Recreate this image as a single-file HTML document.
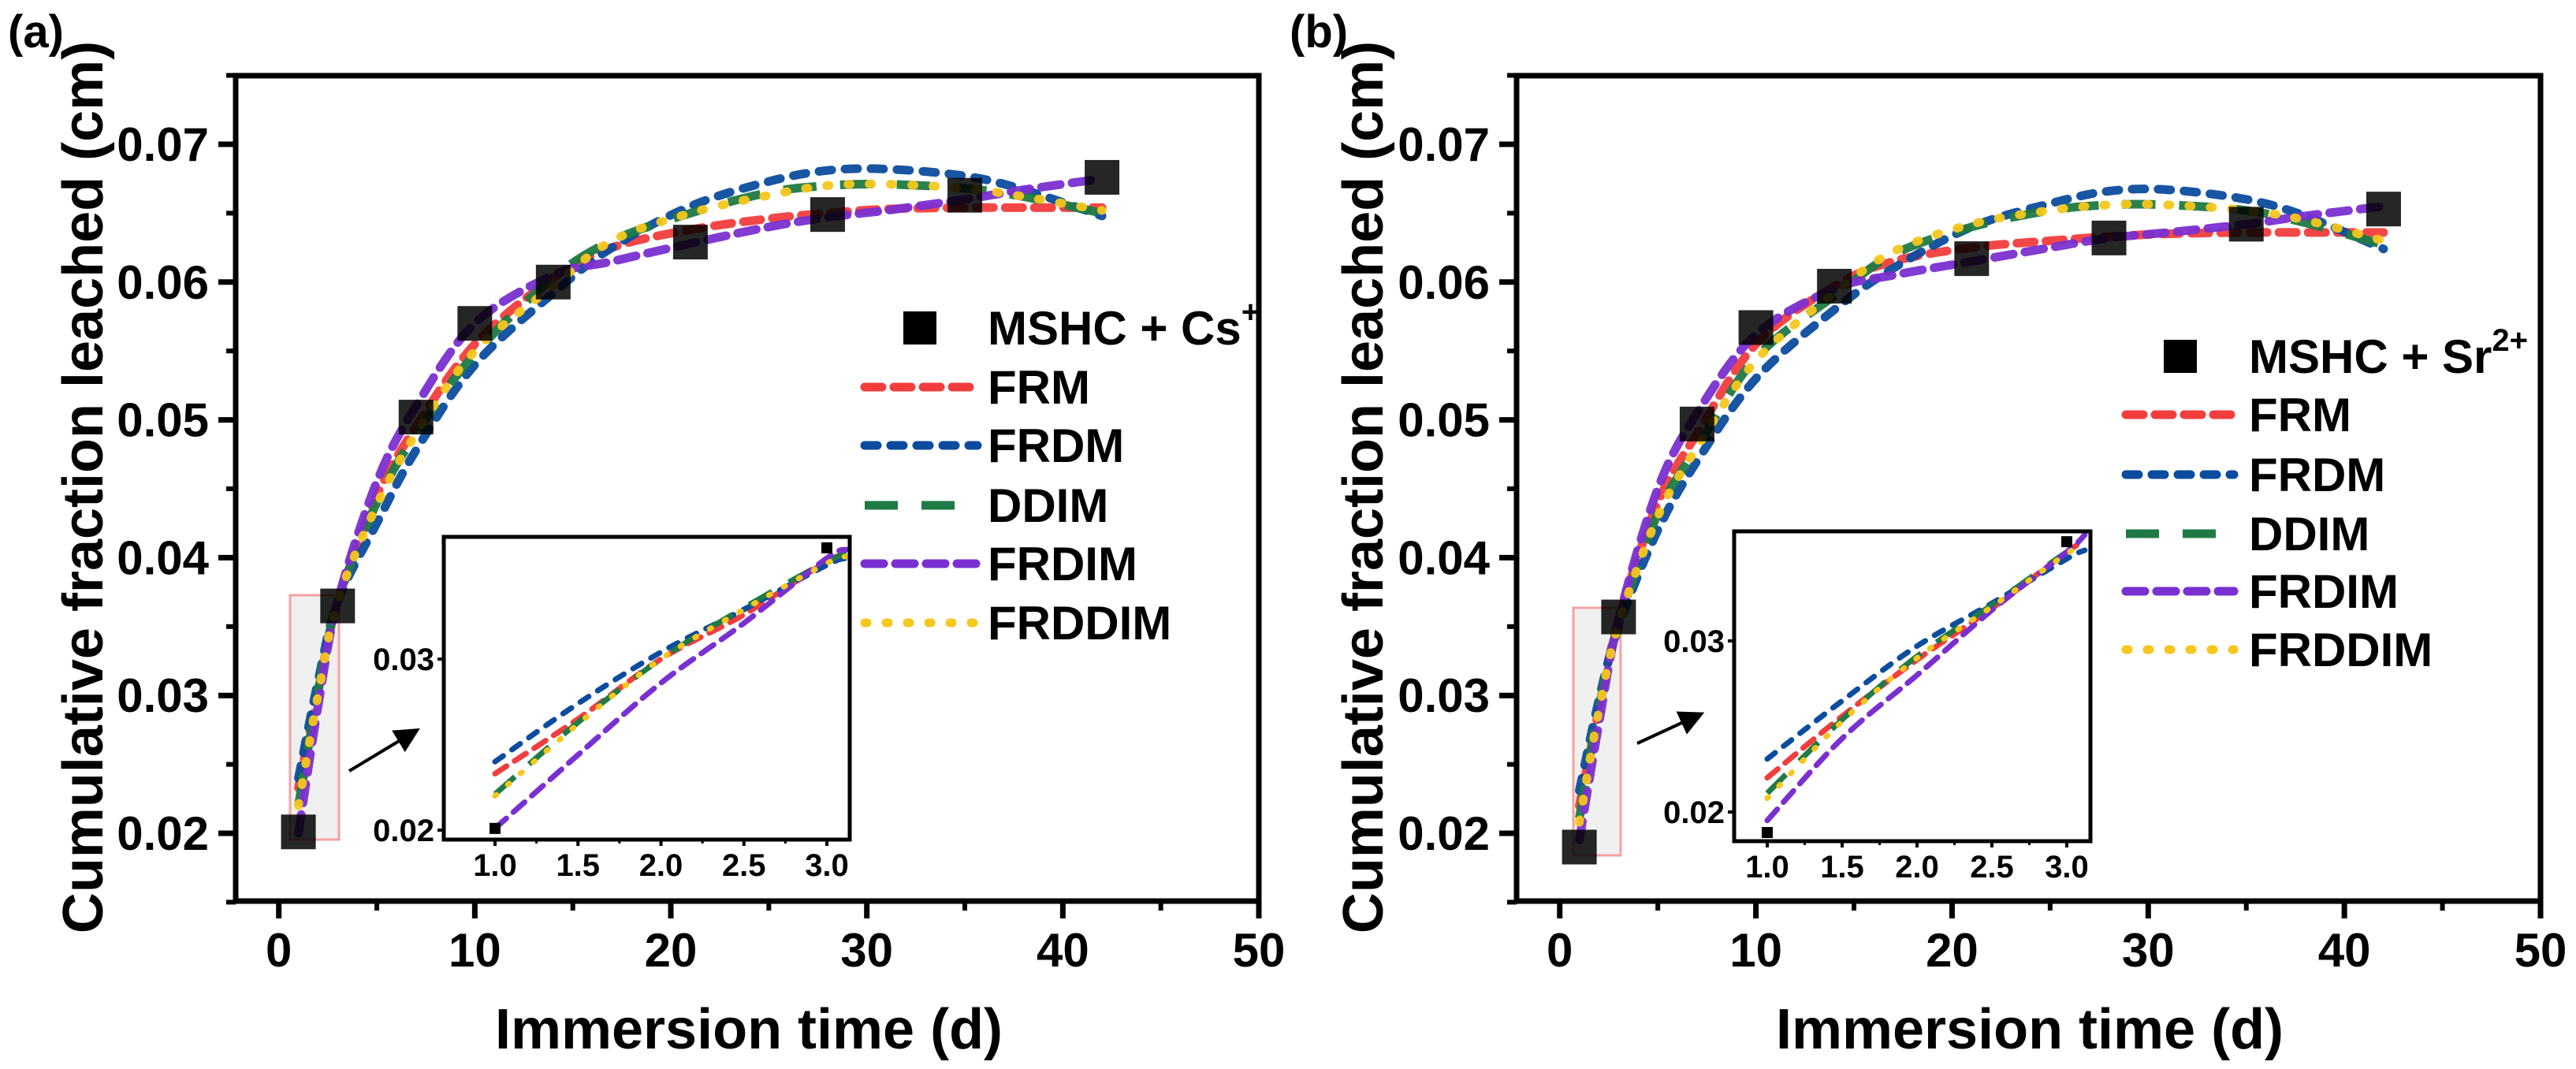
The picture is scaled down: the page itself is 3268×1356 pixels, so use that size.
<!DOCTYPE html>
<html><head><meta charset="utf-8"><style>
html,body{margin:0;padding:0;background:#fff;}
svg{display:block;font-family:"Liberation Sans",Arial,sans-serif;font-weight:bold;}
</style></head><body>
<svg id="chart" width="3268" height="1356" viewBox="0 0 3268 1356" xmlns="http://www.w3.org/2000/svg"></svg>
<script>
// ---- data ----
const obsX = [1,3,7,10,14,21,28,35,42];
const obsA = [0.0201,0.0365,0.0502,0.0570,0.0600,0.0629,0.0649,0.0663,0.0676];
const obsB = [0.0190,0.0357,0.0497,0.0567,0.0597,0.0617,0.0632,0.0642,0.0653];
const fitX = [1,2,3,5,7,10,14,17,21,25,28,31,35,38,42];
const frmA   = [0.0233,0.0303,0.0368,0.0445,0.0495,0.0555,0.0603,0.0625,0.0638,0.0646,0.0650,0.0653,0.0654,0.0654,0.0654];
const frdmA  = [0.0240,0.0310,0.0368,0.0425,0.0478,0.0540,0.0592,0.0625,0.0655,0.0673,0.0681,0.0682,0.0677,0.0667,0.0648];
const ddimA  = [0.0220,0.0302,0.0368,0.0440,0.0490,0.0548,0.0603,0.0630,0.0650,0.0665,0.0670,0.0671,0.0668,0.0662,0.0650];
const frdimA = [0.0200,0.0292,0.0368,0.0455,0.0510,0.0570,0.0605,0.0615,0.0628,0.0640,0.0647,0.0652,0.0660,0.0667,0.0675];
const frddimA= [0.0220,0.0300,0.0368,0.0438,0.0490,0.0550,0.0597,0.0630,0.0650,0.0663,0.0670,0.0671,0.0668,0.0662,0.0652];
const frmB   = [0.0220,0.0290,0.0355,0.0440,0.0490,0.0555,0.0597,0.0615,0.0625,0.0630,0.0633,0.0635,0.0636,0.0636,0.0636];
const frdmB  = [0.0231,0.0297,0.0350,0.0420,0.0470,0.0530,0.0580,0.0610,0.0640,0.0657,0.0666,0.0667,0.0660,0.0648,0.0624];
const ddimB  = [0.0211,0.0291,0.0352,0.0432,0.0480,0.0545,0.0590,0.0620,0.0640,0.0652,0.0656,0.0656,0.0652,0.0643,0.0627];
const frdimB = [0.0195,0.0280,0.0355,0.0450,0.0505,0.0562,0.0595,0.0605,0.0615,0.0625,0.0632,0.0636,0.0642,0.0648,0.0655];
const frddimB= [0.0208,0.0289,0.0352,0.0430,0.0480,0.0543,0.0592,0.0622,0.0642,0.0652,0.0656,0.0656,0.0652,0.0645,0.0630];
const insetX = [1.0,1.5,2.0,2.5,3.0,3.12];
const inFrmA   = [0.0233,0.0265,0.0300,0.0326,0.0357,0.0361];
const inFrdmA  = [0.0240,0.0274,0.0304,0.0329,0.0355,0.0359];
const inDdimA  = [0.0221,0.0263,0.0300,0.0330,0.0357,0.0361];
const inFrdimA = [0.0201,0.0244,0.0286,0.0321,0.0359,0.0364];
const inFrddimA= [0.0220,0.0262,0.0300,0.0329,0.0356,0.0360];
const inFrmB   = [0.0220,0.0256,0.0289,0.0319,0.0352,0.0358];
const inFrdmB  = [0.0231,0.0265,0.0297,0.0322,0.0348,0.0353];
const inDdimB  = [0.0211,0.0254,0.0291,0.0321,0.0352,0.0357];
const inFrdimB = [0.0195,0.0243,0.0280,0.0318,0.0352,0.0362];
const inFrddimB= [0.0208,0.0253,0.0290,0.0320,0.0351,0.0356];
const insetObsX = [1.0,3.0];
const insetObsA = [0.0201,0.0365];
const insetObsB = [0.0188,0.0358];
const xTicks = [0,10,20,30,40,50];
const yTicks = [0.02,0.03,0.04,0.05,0.06,0.07];
const yTickLabels = ["0.02","0.03","0.04","0.05","0.06","0.07"];
const insetXTicks = [1.0,1.5,2.0,2.5,3.0];
const insetXTickLabels = ["1.0","1.5","2.0","2.5","3.0"];
const insetYTicks = [0.02,0.03];
const insetYTickLabels = ["0.02","0.03"];
const modelNames = ["FRM","FRDM","DDIM","FRDIM","FRDDIM"];

// ---- styles ----
const styles = [
 {c:"#f23d3d",d:"22 15",cap:"round"},
 {c:"#0c4c9e",d:"16 17",cap:"round"},
 {c:"#1f7a45",d:"42 30",cap:"butt"},
 {c:"#7a2fd0",d:"24 15",cap:"round"},
 {c:"#f6c71d",d:"3 24",cap:"round"}
];
const NS="http://www.w3.org/2000/svg";
const svg=document.getElementById('chart');
function el(tag,attrs,parent,txt){const e=document.createElementNS(NS,tag);for(const k in attrs)e.setAttribute(k,attrs[k]);if(txt!==undefined)e.textContent=txt;(parent||svg).appendChild(e);return e;}
function smooth(pts){let d="M"+pts[0][0].toFixed(1)+","+pts[0][1].toFixed(1);
 for(let i=0;i<pts.length-1;i++){const p0=pts[Math.max(0,i-1)],p1=pts[i],p2=pts[i+1],p3=pts[Math.min(pts.length-1,i+2)];
  const c1=[p1[0]+(p2[0]-p0[0])/6,p1[1]+(p2[1]-p0[1])/6],c2=[p2[0]-(p3[0]-p1[0])/6,p2[1]-(p3[1]-p1[1])/6];
  d+=" C"+c1[0].toFixed(1)+","+c1[1].toFixed(1)+" "+c2[0].toFixed(1)+","+c2[1].toFixed(1)+" "+p2[0].toFixed(1)+","+p2[1].toFixed(1);}
 return d;}

function panel(cfg){
 const g=el('g',{});
 
 
 const L=cfg.L,R=cfg.R,T=96,B=1143;
 const sx=v=>L+(v-(-2.2))/(50-(-2.2))*(R-L);
 const sy=v=>1057-(v-0.02)/0.01*174.8;
 const pl=el('text',{x:cfg.lab,y:60,'font-size':58},g,"("+cfg.id+")");
 
 
 const hr=el('rect',{x:cfg.hr[0],y:cfg.hr[1],width:cfg.hr[2],height:cfg.hr[3],fill:"#f0f0f0",stroke:"#f5a0a0","stroke-width":3},g);
 
 
 cfg.series.forEach((s,i)=>{
  const p=el('path',{d:smooth(fitX.map((x,j)=>[sx(x),sy(s[j])])),fill:"none",stroke:styles[i].c,"stroke-width":11,"stroke-dasharray":styles[i].d,"stroke-linecap":styles[i].cap,opacity:0.95},g);
  
  
 });
 cfg.obs.forEach((v,j)=>{
  const r=el('rect',{x:sx(obsX[j])-22,y:sy(v)-22,width:44,height:44,fill:"#000",opacity:0.85},g);
  
  
 });
 const fr=el('rect',{x:L,y:T,width:R-L,height:B-T,fill:"none",stroke:"#000","stroke-width":7},g);
 
 
 xTicks.forEach(t=>{
  const x=sx(t);
  el('line',{x1:x,y1:B,x2:x,y2:B+22,stroke:"#000","stroke-width":7},g);
  const tx=el('text',{x:x,y:1226,'font-size':60,'text-anchor':'middle'},g,String(t));
  
  
  if(t<50) el('line',{x1:sx(t+5),y1:B,x2:sx(t+5),y2:B+12,stroke:"#000","stroke-width":6},g);
 });
 yTicks.forEach((t,i)=>{
  const y=sy(t);
  el('line',{x1:L-22,y1:y,x2:L,y2:y,stroke:"#000","stroke-width":7},g);
  el('line',{x1:L-12,y1:sy(t-0.005),x2:L,y2:sy(t-0.005),stroke:"#000","stroke-width":6},g);
  const ty=el('text',{x:L-34,y:y+21,'font-size':60,'text-anchor':'end'},g,yTickLabels[i]);
  
  
 });
 el('line',{x1:L-12,y1:sy(0.075),x2:L,y2:sy(0.075),stroke:"#000","stroke-width":6},g);
 const xt=el('text',{x:cfg.xtc,y:1330,'font-size':72,'text-anchor':'middle'},g,"Immersion time (d)");
 
 
 const yt=el('text',{x:0,y:0,'font-size':72,'text-anchor':'middle',transform:`translate(${cfg.ytx},618) rotate(-90)`},g,"Cumulative fraction leached (cm)");
 
 
 const a=cfg.arrow;
 const ar=el('line',{x1:a[0],y1:a[1],x2:a[2],y2:a[3],stroke:"#000","stroke-width":4,"marker-end":"url(#arrowhead)"},g);
 
 
 const lg=el('g',{},g);
 
 
 const ly=cfg.leg;
 el('rect',{x:cfg.legMark-21,y:ly[1]-21,width:42,height:42,fill:"#000"},lg);
 const lt=el('text',{x:cfg.legText,y:ly[1]+21,'font-size':60},lg);
 
 
 lt.appendChild(document.createTextNode(cfg.obsName));
 el('tspan',{'font-size':40,dy:-28},lt,cfg.sup);
 modelNames.forEach((n,i)=>{
  const y=ly[i+2];
  el('line',{x1:cfg.legLine[0],y1:y,x2:cfg.legLine[1],y2:y,stroke:styles[i].c,"stroke-width":11,"stroke-dasharray":styles[i].d,"stroke-linecap":styles[i].cap},lg);
  const t=el('text',{x:cfg.legText,y:y+21,'font-size':60},lg,n);
  
  
 });
 const I=cfg.inset;
 const ig=el('g',{},g);
 
 
 el('rect',{x:I.L,y:I.T,width:I.R-I.L,height:I.B-I.T,fill:"#fff"},ig);
 const isx=v=>I.x1+(v-1)*I.kx;
 const isy=v=>I.y2-(v-0.02)*I.ky;
 el('clipPath',{id:'clip'+cfg.id},ig);
 el('rect',{x:I.L,y:I.T,width:I.R-I.L,height:I.B-I.T},document.getElementById('clip'+cfg.id));
 const cg=el('g',{'clip-path':`url(#clip${cfg.id})`},ig);
 cfg.inSeries.forEach((s,i)=>{
  const p=el('path',{d:smooth(insetX.map((x,j)=>[isx(x),isy(s[j])])),fill:"none",stroke:styles[i].c,"stroke-width":7,"stroke-dasharray":styles[i].d.split(' ').map(v=>v*0.8).join(' '),"stroke-linecap":styles[i].cap},cg);
  
  
 });
 cfg.inObs.forEach((v,j)=>{
  const r=el('rect',{x:isx(insetObsX[j])-7,y:isy(v)-7,width:14,height:14,fill:"#000"},cg);
  
  
 });
 el('rect',{x:I.L,y:I.T,width:I.R-I.L,height:I.B-I.T,fill:"none",stroke:"#000","stroke-width":5},ig);
 insetXTicks.forEach((t,i)=>{
  const x=isx(t);
  el('line',{x1:x,y1:I.B,x2:x,y2:I.B+8,stroke:"#000","stroke-width":4},ig);
  if(isx(t+0.25)<I.R) el('line',{x1:isx(t+0.25),y1:I.B,x2:isx(t+0.25),y2:I.B+5,stroke:"#000","stroke-width":3},ig);
  const tx=el('text',{x:x,y:I.B+46,'font-size':40,'text-anchor':'middle'},ig,insetXTickLabels[i]);
  
  
 });
 insetYTicks.forEach((t,i)=>{
  const y=isy(t);
  el('line',{x1:I.L-8,y1:y,x2:I.L,y2:y,stroke:"#000","stroke-width":4},ig);
  const ty=el('text',{x:I.L-12,y:y+14,'font-size':40,'text-anchor':'end'},ig,insetYTickLabels[i]);
  
  
 });
}
const defs=el('defs',{});
const mk=el('marker',{id:'arrowhead',markerWidth:8,markerHeight:8,refX:6,refY:4,orient:'auto',markerUnits:'strokeWidth'},defs);
el('path',{d:'M0,0 L8,4 L0,8 Z',fill:'#000'},mk);

panel({id:'a',L:299,R:1597,lab:10,xtc:950,ytx:130,hr:[368,755,62,310],arrow:[443,978,526,928],
 series:[frmA,frdmA,ddimA,frdimA,frddimA],obs:obsA,obsName:"MSHC + Cs",sup:"+",
 legMark:1167,legText:1253,legLine:[1097,1240],leg:[0,416,491,565,641,715,790],
 inSeries:[inFrmA,inFrdmA,inDdimA,inFrdimA,inFrddimA],inObs:insetObsA,
 inset:{L:563,R:1078,T:681,B:1065,x1:628,kx:210.5,y2:1053,ky:21700}});
panel({id:'b',L:1924,R:3223,lab:1636,xtc:2575,ytx:1754,hr:[1996,771,60,314],arrow:[2077,943,2155,907],
 series:[frmB,frdmB,ddimB,frdimB,frddimB],obs:obsB,obsName:"MSHC + Sr",sup:"2+",
 legMark:2766,legText:2853,legLine:[2697,2834],leg:[0,452,526,602,677,750,824],
 inSeries:[inFrmB,inFrdmB,inDdimB,inFrdimB,inFrddimB],inObs:insetObsB,
 inset:{L:2200,R:2652,T:674,B:1067,x1:2242,kx:190,y2:1030,ky:21700}});
</script>
</body></html>
